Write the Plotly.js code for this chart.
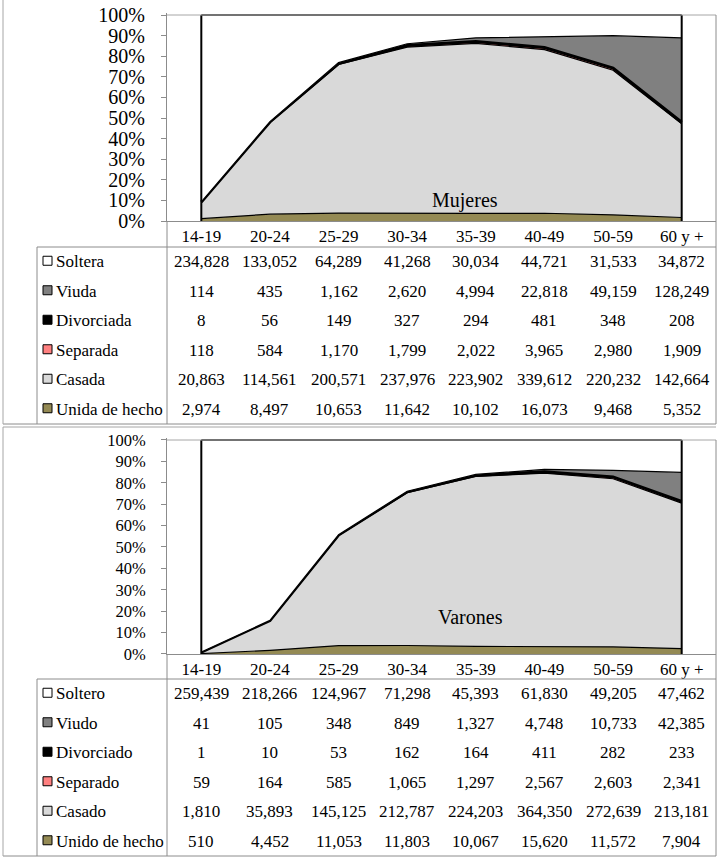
<!DOCTYPE html>
<html><head><meta charset="utf-8">
<script src="https://cdn.plot.ly/plotly-3.0.1.min.js"></script>
<style>html,body{margin:0;padding:0;background:#fff}#chart{width:723px;height:861px}</style>
</head><body><div id="chart"></div>
<script>
const categories = ['14-19','20-24','25-29','30-34','35-39','40-49','50-59','60 y +'];
// Mujeres
const mSoltera    = [234828,133052,64289,41268,30034,44721,31533,34872];
const mViuda      = [114,435,1162,2620,4994,22818,49159,128249];
const mDivorciada = [8,56,149,327,294,481,348,208];
const mSeparada   = [118,584,1170,1799,2022,3965,2980,1909];
const mCasada     = [20863,114561,200571,237976,223902,339612,220232,142664];
const mUnida      = [2974,8497,10653,11642,10102,16073,9468,5352];
// Varones
const vSoltero    = [259439,218266,124967,71298,45393,61830,49205,47462];
const vViudo      = [41,105,348,849,1327,4748,10733,42385];
const vDivorciado = [1,10,53,162,164,411,282,233];
const vSeparado   = [59,164,585,1065,1297,2567,2603,2341];
const vCasado     = [1810,35893,145125,212787,224203,364350,272639,213181];
const vUnido      = [510,4452,11053,11803,10067,15620,11572,7904];

const mLabels = ['Soltera','Viuda','Divorciada','Separada','Casada','Unida de hecho'];
const vLabels = ['Soltero','Viudo','Divorciado','Separado','Casado','Unido de hecho'];
const panelTitles = ['Mujeres','Varones'];
const yTickVals = [0,10,20,30,40,50,60,70,80,90,100];

const W = 723, H = 861;
const FONT = 'Liberation Serif';
const colors = ['#FFFFFF','#808080','#000000','#FF8080','#D9D9D9','#948A54'];
const lineW = [1.6,1.2,3,1,1.2,1.2];
const GRID = '#8C8C8C';
const px = x => x / W;
const py = y => 1 - y / H;
const fmt = v => v.toLocaleString('en-US');

const mData = [mSoltera,mViuda,mDivorciada,mSeparada,mCasada,mUnida];
const vData = [vSoltero,vViudo,vDivorciado,vSeparado,vCasado,vUnido];

// panel geometry (pixels)
const P = [
  {xa:'x', ya:'y', top:15, zero:221, head:247, bottom:424, frameTop:-5, lblSize:20, title:{x:465,y:201}},
  {xa:'x2', ya:'y2', top:440, zero:654, head:679, bottom:856, frameTop:427, lblSize:16.5, title:{x:470,y:617}}
];
const RANGE_TOP = 100.8;

const traces = [];
const shapes = [];
const annotations = [];
[mData, vData].forEach((data, p) => {
  const g = P[p];
  for (let i = 5; i >= 0; i--) {
    const t = {
      type:'scatter', mode:'lines', x:categories, y:data[i],
      xaxis:g.xa, yaxis:g.ya, stackgroup:'s'+p,
      fillcolor:colors[i], line:{color:'#000', width:lineW[i]},
      hoverinfo:'skip', showlegend:false
    };
    if (i === 5) t.groupnorm = 'percent';
    traces.push(t);
  }
  [categories[0], categories[categories.length-1]].forEach(c => {
    shapes.push({type:'line', xref:g.xa, yref:g.ya, x0:c, x1:c, y0:0, y1:100, line:{color:'#000', width:2}});
  });
  const ln = (x0,y0,x1,y1,col) => shapes.push({type:'line', xref:'paper', yref:'paper',
      x0:px(x0), x1:px(x1), y0:py(y0), y1:py(y1), line:{color:col||GRID, width:1}});
  ln(167, g.top, 716, g.top, '#A6A6A6');
  ln(716, g.top, 716, g.bottom);
  ln(37, g.head, 716, g.head);
  ln(37, g.head, 37, g.bottom);
  ln(167, g.zero, 167, g.bottom);
  ln(3, g.bottom, 716, g.bottom);
  ln(3, g.frameTop, 3, g.bottom, '#A6A6A6');
  if (p === 1) ln(3, g.frameTop, 716, g.frameTop, '#A6A6A6');
  const labels = p === 0 ? mLabels : vLabels;
  const rowH = (g.bottom - g.head) / 6;
  for (let r = 0; r < 6; r++) {
    const cy = g.head + rowH * (r + 0.5);
    shapes.push({type:'rect', xref:'paper', yref:'paper', x0:px(43), x1:px(52), y0:py(cy+3.5), y1:py(cy-5.5),
      fillcolor:colors[r], line:{color:'#000', width:1}});
    annotations.push({xref:'paper', yref:'paper', x:px(54), y:py(cy), xanchor:'left', yanchor:'middle',
      text:labels[r], showarrow:false, font:{family:FONT, size:17, color:'#000'}});
    for (let c = 0; c < categories.length; c++) {
      annotations.push({xref:g.xa, yref:'paper', x:categories[c], y:py(cy), xanchor:'center', yanchor:'middle',
        text:fmt(data[r][c]), showarrow:false, font:{family:FONT, size:17, color:'#000'}});
    }
  }
  annotations.push({xref:'paper', yref:'paper', x:px(g.title.x), y:py(g.title.y), xanchor:'center', yanchor:'middle',
    text:panelTitles[p], showarrow:false, font:{family:FONT, size:20, color:'#000'}});
});

const xaxisBase = (g) => ({
  type:'category', range:[-0.5, 7.5], domain:[px(167), px(716)], anchor:g.ya,
  showline:true, linecolor:GRID, linewidth:1, ticks:'', showgrid:false, zeroline:false,
  tickfont:{family:FONT, size:17, color:'#000'}, fixedrange:true
});
const yaxisBase = (g) => {
  const scale = (g.zero - g.top) / 100;
  const domTopPx = g.zero - RANGE_TOP * scale;
  return {
    range:[0, RANGE_TOP], domain:[py(g.zero), py(domTopPx)], anchor:g.xa,
    tickvals:yTickVals, ticktext:yTickVals.map(v => v + '%'),
    ticks:'outside', ticklen:5, tickcolor:GRID, showline:true, linecolor:GRID, linewidth:1,
    showgrid:false, zeroline:false, tickfont:{family:FONT, size:g.lblSize, color:'#000'},
    ticklabelstandoff:12, fixedrange:true
  };
};

const layout = {
  width:W, height:H, margin:{l:0, r:0, t:0, b:0},
  font:{family:FONT},
  paper_bgcolor:'#fff', plot_bgcolor:'rgba(0,0,0,0)', showlegend:false,
  xaxis:xaxisBase(P[0]), yaxis:yaxisBase(P[0]),
  xaxis2:xaxisBase(P[1]), yaxis2:yaxisBase(P[1]),
  shapes:shapes, annotations:annotations
};
Plotly.newPlot('chart', traces, layout, {staticPlot:true, displayModeBar:false});
</script>
</body></html>
